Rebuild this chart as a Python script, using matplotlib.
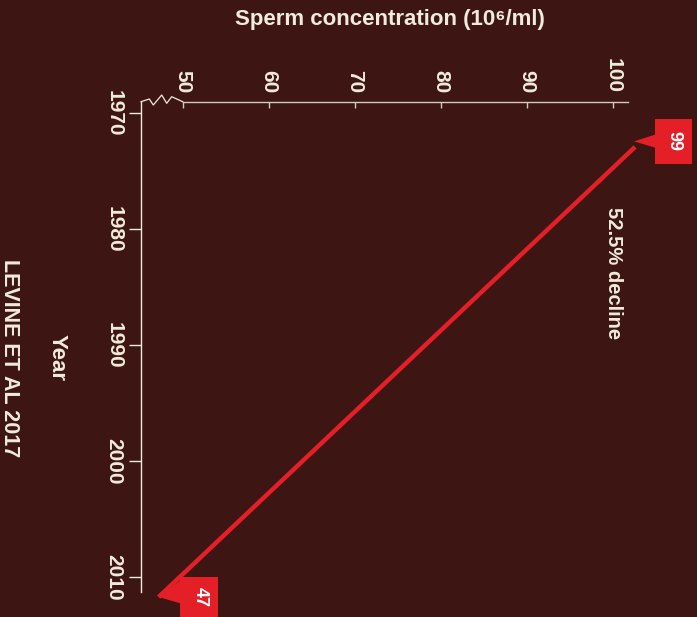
import matplotlib
matplotlib.use('Agg')
import matplotlib.pyplot as plt
from matplotlib.patches import Polygon, Rectangle
from matplotlib.transforms import Affine2D, ScaledTranslation

# data
years = [1972.9, 2011.7]          # where the trend line starts / ends
concentration = [102.6, 47.2]     # sperm concentration (10^6/ml) at those points
callout_labels = ['99', '47']
x_ticks = [50, 60, 70, 80, 90, 100]
y_ticks = [1970, 1980, 1990, 2000, 2010]
decline_text = '52.5% decline'
source_text = 'LEVINE ET AL 2017'

BG = '#3d1613'
RED = '#e51f28'
CREAM = '#f1ebdb'
AXIS = '#d2c9be'

plt.rcParams['font.family'] = ['Liberation Sans', 'DejaVu Sans']
plt.rcParams['font.weight'] = 'bold'

W, H = 697, 617
fig = plt.figure(figsize=(W / 100, H / 100), dpi=100, facecolor=BG)
# axes box in pixel units: left 141, top 101.7, right 650, bottom 600
ax = fig.add_axes([141 / W, (H - 600) / H, (650 - 141) / W, (600 - 101.7) / H])
ax.set_facecolor(BG)
ax.set_xlim(45.151, 104.337)
ax.set_ylim(2011.957, 1969.0)

for side in ['right', 'bottom']:
    ax.spines[side].set_visible(False)
ax.spines['top'].set_color(AXIS)
ax.spines['left'].set_color(CREAM)
ax.spines['top'].set_linewidth(1.0)
ax.spines['left'].set_linewidth(1.0)
ax.spines['top'].set_bounds(50, 101.8)
ax.spines['left'].set_bounds(1969.0, 2011.3)

ax.xaxis.tick_top()
ax.set_xticks(x_ticks)
ax.set_yticks(y_ticks)
ax.tick_params(axis='x', direction='in', length=4.5, width=1.0, color=AXIS,
               labelsize=15, labelcolor=CREAM, pad=6)
ax.tick_params(axis='y', direction='out', length=8.6, width=1.0, color=CREAM,
               labelsize=15, labelcolor=CREAM, pad=4)
plt.setp(ax.get_xticklabels(), rotation=-90, ha='center', va='bottom')
plt.setp(ax.get_yticklabels(), rotation=-90, ha='right', va='center')

# axis break zigzag between the two axes (pixel offsets from the corner)
zx = [0, 8.3, 12.3, 20.7, 25.7, 30.7, 41.7]
zy = [0, 2.7, -3.3, 6.7, -1.6, 5, 0]
zz = Affine2D() + ScaledTranslation(0, 1, ax.transAxes)
ax.plot(zx, zy, color=CREAM, lw=0.9, transform=zz, clip_on=False)

# trend line
ax.plot(concentration, years, color=RED, lw=3.2, solid_capstyle='butt', clip_on=False)


def callout(x, y, text, box, tri, text_xy):
    tr = Affine2D() + ScaledTranslation(x, y, ax.transData)
    ax.add_patch(Polygon(tri, closed=True, facecolor=RED, edgecolor='none',
                         transform=tr, clip_on=False))
    x0, y0, x1, y1 = box
    ax.add_patch(Rectangle((x0, y0), x1 - x0, y1 - y0, facecolor=RED,
                           edgecolor='none', transform=tr, clip_on=False))
    ax.text(text_xy[0], text_xy[1], text, transform=tr, rotation=-90,
            ha='center', va='center', color='white', fontsize=13,
            fontweight='bold', clip_on=False)


callout(concentration[0], years[0], callout_labels[0],
        box=(20, -16.7, 57, 28.3),
        tri=[(-1, 5.6), (20, 12.3), (20, -0.7)],
        text_xy=(39, 6))
callout(concentration[1], years[1], callout_labels[1],
        box=(21.7, -30, 59.7, 19.7),
        tri=[(0, 0), (21.7, 16.7), (21.7, -6.3)],
        text_xy=(42, 0))

# texts
fig.text(390 / W, 1 - 20 / H, 'Sperm concentration (10⁶/ml)', ha='center',
         va='center', fontsize=16, color=CREAM, fontweight='bold')
fig.text(57 / W, 1 - 357 / H, 'Year', rotation=-90, ha='center', va='center',
         fontsize=16, color=CREAM, fontweight='bold')
fig.text(9 / W, 1 - 358 / H, source_text, rotation=-90, ha='center',
         va='center', fontsize=15.5, color=CREAM, fontweight='bold')
fig.text(613 / W, 1 - 273 / H, decline_text, rotation=-90, ha='center',
         va='center', fontsize=14.5, color=CREAM, fontweight='bold')

fig.savefig('out.png', dpi=100, facecolor=BG)
